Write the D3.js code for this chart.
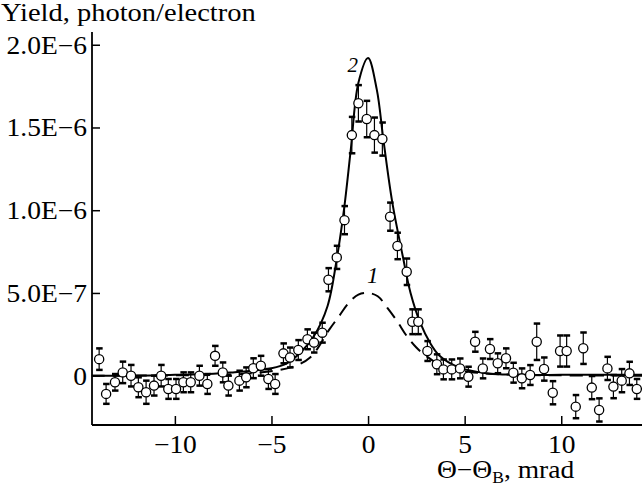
<!DOCTYPE html>
<html>
<head>
<meta charset="utf-8">
<script src="https://cdn.jsdelivr.net/npm/d3@7"></script>
<style>
  body { margin: 0; background: #fff; }
  svg { display: block; }
</style>
</head>
<body>
<svg id="chart" width="642" height="489"></svg>
<script>
// measured points (angle in mrad, yield in 1E-6 photon/electron)
const pointX = [-13.92,-13.56,-13.10,-12.70,-12.27,-11.89,-11.49,-11.08,-10.71,-10.34,-9.94,-9.56,-9.18,-8.73,-8.32,-7.92,-7.52,-7.23,-6.66,-6.31,-5.94,-5.55,-5.16,-4.81,-4.38,-4.04,-3.61,-3.14,-2.80,-2.37,-2.05,-1.62,-1.22,-0.84,-0.50,-0.07,0.33,0.74,1.14,1.52,2.00,2.29,2.60,3.07,3.56,3.90,4.33,4.76,5.19,5.54,5.94,6.31,6.71,7.14,7.52,7.96,8.39,8.73,9.11,9.56,9.94,10.28,10.75,11.14,11.58,11.96,12.39,12.70,13.13,13.53,13.91]
const pointY = [0.10,-0.11,-0.04,0.02,0.00,-0.07,-0.10,-0.06,0.00,-0.08,-0.08,-0.04,-0.04,0.00,-0.05,0.12,0.02,-0.06,-0.03,-0.01,0.045,0.06,-0.02,-0.05,0.135,0.11,0.155,0.22,0.20,0.26,0.58,0.715,0.94,1.454,1.646,1.551,1.454,1.43,0.961,0.784,0.628,0.326,0.326,0.149,0.069,0.038,0.038,0.044,-0.006,0.205,0.044,0.161,0.075,0.105,0.018,-0.016,0.004,0.205,0.04,-0.103,0.149,0.149,-0.187,0.166,-0.072,-0.207,0.044,-0.066,-0.03,0.014,-0.08]
const pointErr = [0.065,0.06,0.05,0.065,0.065,0.06,0.07,0.06,0.065,0.06,0.06,0.06,0.06,0.06,0.06,0.06,0.06,0.06,0.06,0.06,0.06,0.06,0.06,0.06,0.06,0.06,0.06,0.06,0.06,0.06,0.07,0.07,0.085,0.11,0.11,0.11,0.106,0.1,0.085,0.08,0.08,0.075,0.075,0.06,0.06,0.06,0.06,0.06,0.06,0.06,0.06,0.06,0.06,0.06,0.06,0.06,0.06,0.11,0.07,0.07,0.094,0.094,0.07,0.095,0.07,0.07,0.07,0.07,0.07,0.07,0.06]

// curve 2 (solid)
const curve2X = [-14.3,-12,-10,-8,-7,-6,-5,-4.2,-3.5,-2.8,-2.1,-1.6,-1.25,-0.9,-0.5,0,0.45,0.8,1.25,1.8,2.2,2.7,3.2,3.7,4.7,6.1,8,10,12,14.3]
const curve2Y = [0.0,0.0,0.005,0.012,0.02,0.03,0.045,0.075,0.14,0.24,0.42,0.72,1.0,1.36,1.77,1.92,1.73,1.42,1.05,0.72,0.5,0.32,0.2,0.12,0.05,0.015,0.005,0.005,0.005,0.005]

// curve 1 (dashed)
const curve1X = [-14.3,-8,-6,-4,-3,-2,-1.5,-1,-0.5,0,0.5,1,1.5,2,2.5,3,4,6,8,14.3]
const curve1Y = [0.0,0.005,0.015,0.05,0.11,0.28,0.36,0.44,0.49,0.5,0.48,0.41,0.33,0.24,0.17,0.12,0.05,0.015,0.005,0.0]

const xTicks = [-10, -5, 0, 5, 10]
const xTickLabels = ["−10", "−5", "0", "5", "10"]
const yTicks = [0, 0.5, 1.0, 1.5, 2.0]
const yTickLabels = ["0", "5.0E−7", "1.0E−6", "1.5E−6", "2.0E−6"]

const serif = "Liberation Serif"
let svg = d3.select("#chart").attr("font-family", serif)
let pLeft = 92, pRight = 642, pTop = 32, pBottom = 425
let sx = 1.1  // glyphs in the reference are a bit wider than Times

let x = d3.scaleLinear().domain([-14.29, 14.18]).range([pLeft, pRight])
let y = d3.scaleLinear().domain([-0.298, 2.077]).range([pBottom, pTop])

// axes, ticks pointing inward
let xAxis = svg.append("g").attr("transform", "translate(0," + pBottom + ")")
    .call(d3.axisBottom(x).tickValues(xTicks).tickSize(-9).tickFormat((d, i) => xTickLabels[i]))
let yAxis = svg.append("g").attr("transform", "translate(" + pLeft + ",0)")
    .call(d3.axisLeft(y).tickValues(yTicks).tickSize(-8).tickFormat((d, i) => yTickLabels[i]))
svg.selectAll("g").attr("font-family", serif).attr("font-size", 25)

svg.selectAll(".domain").attr("stroke-width", 1.8)
xAxis.select(".domain").attr("d", "M" + pLeft + ",0H" + pRight)
yAxis.select(".domain").attr("d", "M0," + pTop + "V" + pBottom)
svg.selectAll(".tick line").attr("stroke-width", 1.5)

xAxis.selectAll(".tick text")
    .attr("y", null).attr("dy", null).attr("x", 0)
    .attr("transform", "translate(0,28) scale(" + sx + ",1)")
yAxis.selectAll(".tick text")
    .attr("x", 0).attr("dy", null)
    .attr("transform", "translate(-5,8.5) scale(" + sx + ",1)")

// curves
let line = d3.line().curve(d3.curveCatmullRom.alpha(0.5))
svg.append("path")
    .attr("d", line(curve1X.map((d, i) => [x(d), y(curve1Y[i])])))
    .attr("fill", "none").attr("stroke", "#000").attr("stroke-width", 2)
    .attr("stroke-dasharray", "13,8")
svg.append("path")
    .attr("d", line(curve2X.map((d, i) => [x(d), y(curve2Y[i])])))
    .attr("fill", "none").attr("stroke", "#000").attr("stroke-width", 2)

// error bars and points
let pts = pointX.map((d, i) => ({x: d, y: pointY[i], e: pointErr[i]}))
let eb = svg.append("g").selectAll("g").data(pts).enter().append("g")
eb.append("line")
    .attr("x1", d => x(d.x)).attr("x2", d => x(d.x))
    .attr("y1", d => y(d.y + d.e)).attr("y2", d => y(d.y - d.e))
    .attr("stroke", "#000").attr("stroke-width", 1.2)
eb.append("line")
    .attr("x1", d => x(d.x) - 3).attr("x2", d => x(d.x) + 3.5)
    .attr("y1", d => y(d.y + d.e)).attr("y2", d => y(d.y + d.e))
    .attr("stroke", "#000").attr("stroke-width", 2.5)
eb.append("line")
    .attr("x1", d => x(d.x) - 3).attr("x2", d => x(d.x) + 3.5)
    .attr("y1", d => y(d.y - d.e)).attr("y2", d => y(d.y - d.e))
    .attr("stroke", "#000").attr("stroke-width", 2.5)
svg.append("g").selectAll("circle").data(pts).enter().append("circle")
    .attr("cx", d => x(d.x)).attr("cy", d => y(d.y)).attr("r", 4.6)
    .attr("fill", "#fff").attr("stroke", "#000").attr("stroke-width", 1.3)

// curve labels
svg.append("text").attr("x", 358).attr("y", 72).attr("text-anchor", "end")
    .attr("font-family", serif).attr("font-size", 21).attr("font-style", "italic").text("2")
svg.append("text").attr("x", 367).attr("y", 283)
    .attr("font-family", serif).attr("font-size", 23).attr("font-style", "italic").text("1")

// axis titles
svg.append("text").attr("transform", "translate(1,21) scale(1.14,1)")
    .attr("font-family", serif).attr("font-size", 25).text("Yield, photon/electron")
let xt = svg.append("text").attr("transform", "translate(437,478) scale(" + sx + ",1)")
    .attr("font-family", serif).attr("font-size", 25)
xt.append("tspan").text("Θ−Θ")
xt.append("tspan").attr("dy", 5).attr("font-size", 16).text("B")
xt.append("tspan").attr("dy", -5).text(", mrad")
</script>
</body>
</html>
